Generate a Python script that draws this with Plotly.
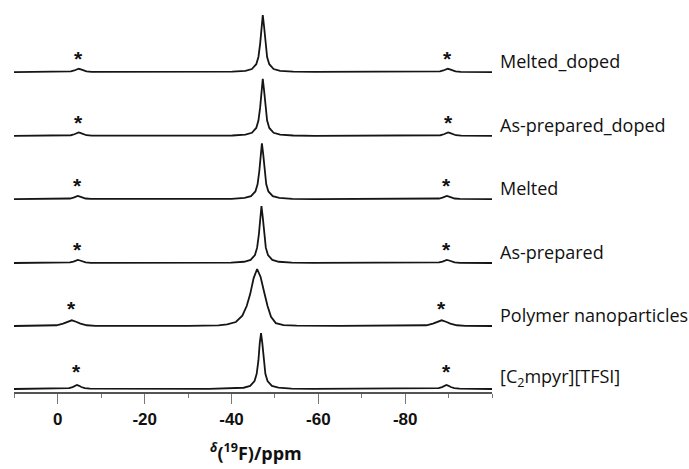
import plotly.graph_objects as go

# ---- data (ppm, normalised intensity) ----
labels = ["Melted_doped", "As-prepared_doped", "Melted", "As-prepared",
          "Polymer nanoparticles", "[C<sub>2</sub>mpyr][TFSI]"]

x_melted_doped = [10.1, -1.8, -3.0, -3.8, -4.3, -4.8, -5.3, -5.8, -6.6, -7.8, -35.2, -40.2, -43.2, -44.7, -45.7, -46.2, -46.6, -46.9, -47.2, -47.5, -47.8, -48.2, -48.7, -49.7, -51.2, -54.2, -59.2, -86.8, -88.0, -88.8, -89.3, -89.8, -90.3, -90.8, -91.6, -92.8, -100]
y_melted_doped = [0, 0.004, 0.012, 0.028, 0.046, 0.058, 0.046, 0.028, 0.012, 0.004, 0.002, 0.007, 0.022, 0.054, 0.138, 0.265, 0.5, 0.8, 1.0, 0.8, 0.5, 0.265, 0.138, 0.054, 0.022, 0.007, 0.002, 0.004, 0.012, 0.028, 0.046, 0.058, 0.046, 0.028, 0.012, 0.004, 0]

x_asprep_doped = [10.1, -1.8, -3.0, -3.8, -4.3, -4.8, -5.3, -5.8, -6.6, -7.8, -35.2, -40.2, -43.2, -44.7, -45.7, -46.2, -46.6, -46.9, -47.2, -47.5, -47.8, -48.2, -48.7, -49.7, -51.2, -54.2, -59.2, -86.9, -88.1, -88.9, -89.4, -89.9, -90.4, -90.9, -91.7, -92.9, -100]
y_asprep_doped = [0, 0.004, 0.012, 0.029, 0.048, 0.06, 0.048, 0.029, 0.012, 0.004, 0.002, 0.007, 0.022, 0.055, 0.14, 0.27, 0.5, 0.8, 1.0, 0.8, 0.5, 0.27, 0.14, 0.055, 0.022, 0.007, 0.002, 0.004, 0.012, 0.029, 0.048, 0.06, 0.048, 0.029, 0.012, 0.004, 0]

x_melted = [10.1, -1.6, -2.8, -3.6, -4.1, -4.6, -5.1, -5.6, -6.4, -7.6, -35.0, -40.0, -43.0, -44.5, -45.5, -46.0, -46.4, -46.7, -47.0, -47.3, -47.6, -48.0, -48.5, -49.5, -51.0, -54.0, -59.0, -86.6, -87.8, -88.6, -89.1, -89.6, -90.1, -90.6, -91.4, -92.6, -100]
y_melted = [0, 0.004, 0.012, 0.028, 0.046, 0.058, 0.046, 0.028, 0.012, 0.004, 0.002, 0.007, 0.022, 0.054, 0.136, 0.26, 0.49, 0.79, 0.98, 0.79, 0.49, 0.26, 0.136, 0.054, 0.022, 0.007, 0.002, 0.004, 0.012, 0.028, 0.046, 0.058, 0.046, 0.028, 0.012, 0.004, 0]

x_asprep = [10.1, -1.6, -2.8, -3.6, -4.1, -4.6, -5.1, -5.6, -6.4, -7.6, -34.9, -39.9, -42.9, -44.4, -45.4, -45.9, -46.3, -46.6, -46.9, -47.2, -47.5, -47.9, -48.4, -49.4, -50.9, -53.9, -58.9, -86.6, -87.8, -88.6, -89.1, -89.6, -90.1, -90.6, -91.4, -92.6, -100]
y_asprep = [0, 0.004, 0.011, 0.026, 0.044, 0.055, 0.044, 0.026, 0.011, 0.004, 0.002, 0.007, 0.022, 0.055, 0.14, 0.27, 0.5, 0.8, 1.0, 0.8, 0.5, 0.27, 0.14, 0.055, 0.022, 0.007, 0.002, 0.004, 0.011, 0.026, 0.044, 0.055, 0.044, 0.026, 0.011, 0.004, 0]

x_polymer = [10.1, 2.3, 0.3, -1.2, -2.2, -3.2, -4.2, -5.2, -6.7, -8.7, -30, -37, -39, -41, -42.5, -43.5, -44.3, -45.1, -45.9, -46.7, -47.5, -48.3, -49.1, -50.2, -52, -55, -65, -82.9, -84.9, -86.4, -87.4, -88.4, -89.4, -90.4, -91.9, -93.9, -100]
y_polymer = [0, 0.003, 0.013, 0.042, 0.075, 0.1, 0.075, 0.042, 0.013, 0.003, 0.002, 0.012, 0.028, 0.07, 0.18, 0.35, 0.56, 0.84, 1.0, 0.86, 0.6, 0.35, 0.16, 0.05, 0.016, 0.005, 0.002, 0.003, 0.013, 0.042, 0.075, 0.1, 0.075, 0.042, 0.013, 0.003, 0]

x_ionic = [10.1, -1.4, -2.6, -3.4, -3.9, -4.4, -4.9, -5.4, -6.2, -7.4, -34.8, -39.8, -42.8, -44.3, -45.3, -45.8, -46.2, -46.5, -46.8, -47.1, -47.4, -47.8, -48.3, -49.3, -50.8, -53.8, -58.8, -86.5, -87.7, -88.5, -89.0, -89.5, -90.0, -90.5, -91.3, -92.5, -100]
y_ionic = [0, 0.005, 0.015, 0.034, 0.056, 0.07, 0.056, 0.034, 0.015, 0.005, 0.002, 0.007, 0.022, 0.054, 0.138, 0.265, 0.5, 0.8, 0.98, 0.8, 0.5, 0.265, 0.138, 0.054, 0.022, 0.007, 0.002, 0.005, 0.015, 0.034, 0.056, 0.07, 0.056, 0.034, 0.015, 0.005, 0]

# spinning sideband positions (marked with *)
sideband_left = [-4.8, -4.8, -4.6, -4.6, -3.2, -4.4]
sideband_right = [-89.8, -89.9, -89.6, -89.6, -88.4, -89.5]

tick_vals = [0, -20, -40, -60, -80]
tick_text = ["0", "-20", "-40", "-60", "-80"]
x_title = "<i><sup>δ</sup></i>(<sup>19</sup>F)/ppm"

# ---- layout (stack offsets) ----
xs = [x_melted_doped, x_asprep_doped, x_melted, x_asprep, x_polymer, x_ionic]
ys = [y_melted_doped, y_asprep_doped, y_melted, y_asprep, y_polymer, y_ionic]
offsets = [5.56, 4.44, 3.33, 2.21, 1.105, 0.0]
star_lift = [0.24, 0.24, 0.24, 0.24, 0.3, 0.3]

fig = go.Figure()
for x, y, off in zip(xs, ys, offsets):
    fig.add_trace(go.Scatter(x=x, y=[v + off for v in y], mode="lines",
                             line=dict(color="#151515", width=1.8),
                             showlegend=False, hoverinfo="skip"))

ann = []
for lab, off, sl, sr, lift in zip(labels, offsets, sideband_left, sideband_right, star_lift):
    ann.append(dict(x=1, xref="paper", y=off + 0.2, yref="y", text=lab,
                    xanchor="left", yanchor="middle", xshift=6, showarrow=False,
                    font=dict(family="Open Sans", size=18, color="#111")))
    for sx in (sl, sr):
        ann.append(dict(x=sx, y=off + lift, xref="x", yref="y", text="<b>*</b>",
                        showarrow=False, xanchor="center", yanchor="middle",
                        font=dict(family="Liberation Sans", size=21, color="#111")))

# axis title placed as annotation under the axis
ann.append(dict(x=0.5, xref="paper", y=-0.155, yref="paper", text=x_title,
                xanchor="center", yanchor="middle", showarrow=False, xshift=3,
                font=dict(family="Open Sans", size=18, color="#111", weight="bold")))

fig.update_layout(
    width=689, height=469,
    margin=dict(l=14, r=197, t=5, b=77, autoexpand=False),
    paper_bgcolor="white", plot_bgcolor="white",
    annotations=ann,
    xaxis=dict(range=[10.1, -100], tickvals=tick_vals, ticktext=tick_text,
               automargin=False,
               ticks="outside", ticklen=10, tickwidth=1.3, tickcolor="#777",
               ticklabelstandoff=1,
               showline=True, linecolor="#555", linewidth=1.5,
               showgrid=False, zeroline=False,
               tickfont=dict(family="Liberation Sans", size=17, color="#111", weight="bold"),
               minor=dict(ticks="outside", ticklen=4, dtick=10, tick0=0, tickcolor="#777", tickwidth=1.2, showgrid=False)),
    yaxis=dict(range=[-0.053, 6.737], visible=False, showgrid=False, zeroline=False),
)

fig.write_html("out.html")
